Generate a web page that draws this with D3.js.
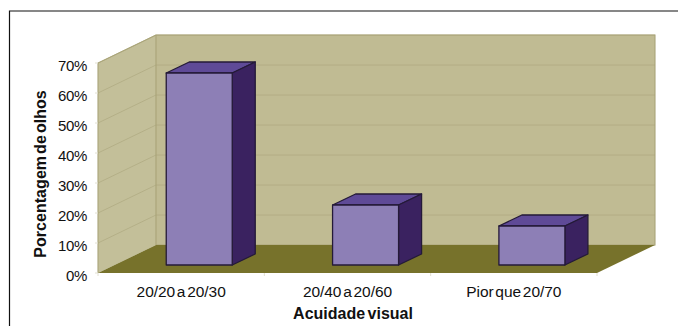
<!DOCTYPE html>
<html>
<head>
<meta charset="utf-8">
<script src="https://cdn.jsdelivr.net/npm/d3@7"></script>
<style>
  html, body { margin: 0; padding: 0; background: #fff; }
  svg { display: block; }
  text { font-family: "Liberation Sans", Arial, sans-serif; fill: #111; }
</style>
</head>
<body>
<svg id="chart" width="678" height="326"></svg>
<script>
const categories = ["20/20 a 20/30", "20/40 a 20/60", "Pior que 20/70"];
const percentages = [64, 20, 13];
const yTicks = [0, 10, 20, 30, 40, 50, 60, 70];
const yTitle = "Porcentagem de olhos";
const xTitle = "Acuidade visual";

const svg = d3.select("#chart");

// Oblique projection: a floor shift of (depthX, -depthY) leads to the back wall.
const depthX = 58, depthY = 28;
const barDepthX = 23, barDepthY = 11;
const barOffset = 8 / depthY;        // how far bars stand back from the front edge

const x = d3.scaleBand().domain(categories).range([98, 597]);
const y = d3.scaleLinear().domain([0, 70]).range([273, 63]);
const barWidth = 66;

const poly = (pts, fill, stroke, sw) => svg.append("polygon")
  .attr("points", pts.map(p => p.join(",")).join(" "))
  .attr("fill", fill)
  .attr("stroke", stroke || "none")
  .attr("stroke-width", sw || 0)
  .attr("stroke-linejoin", "round");

// Outer frame, open on the right and bottom edges
svg.append("path").attr("d", "M9.5,326V11H678").attr("fill", "none")
  .attr("stroke", "#111").attr("stroke-width", 1.2);

const [x0, x1] = x.range();
const yTop = y(70), yBase = y(0);

// Back wall, side wall, floor
poly([[x0 + depthX, yTop - depthY], [x1 + depthX, yTop - depthY], [x1 + depthX, yBase - depthY], [x0 + depthX, yBase - depthY]], "#c0bb93");
poly([[x0, yTop], [x0 + depthX, yTop - depthY], [x0 + depthX, yBase - depthY], [x0, yBase]], "#c3bf99");

// Gridlines running along the side wall and the back wall
svg.append("g").selectAll("path").data(yTicks.filter(t => t > 0)).join("path")
  .attr("d", t => `M${x0},${y(t)}L${x0 + depthX},${y(t) - depthY}H${x1 + depthX}`)
  .attr("fill", "none").attr("stroke", "#aaa57c").attr("stroke-width", 1).attr("opacity", 0.6);

// Wall edges
svg.append("path")
  .attr("d", `M${x0},${yBase}V${yTop}L${x0 + depthX},${yTop - depthY}H${x1 + depthX}V${yBase - depthY}H${x0 + depthX}V${yTop - depthY}`)
  .attr("fill", "none").attr("stroke", "#a9a478").attr("stroke-width", 1.1);

poly([[x0, yBase], [x1, yBase], [x1 + depthX, yBase - depthY], [x0 + depthX, yBase - depthY]], "#77722b");

// Axis ticks on the front edges
svg.append("g").selectAll("line").data(yTicks).join("line")
  .attr("x1", x0 - 3).attr("x2", x0).attr("y1", d => y(d)).attr("y2", d => y(d))
  .attr("stroke", "#e2e0d2").attr("stroke-width", 1);
svg.append("g").selectAll("line").data([x0, x(categories[1]), x(categories[2]), x1]).join("line")
  .attr("x1", d => d).attr("x2", d => d).attr("y1", yBase).attr("y2", yBase + 3)
  .attr("stroke", "#e2e0d2").attr("stroke-width", 1);

// Bars: front, top and side faces
const edge = "#241a38";
categories.forEach((c, i) => {
  const left = x(c) + x.bandwidth() / 2 + depthX * barOffset + 1 - barWidth / 2 + 0.5;
  const right = left + barWidth;
  const floorY = yBase - depthY * barOffset;
  const topY = floorY - (yBase - y(percentages[i]));
  poly([[left, topY], [left + barDepthX, topY - barDepthY], [right + barDepthX, topY - barDepthY], [right, topY]], "#5f4a97", edge, 1.3);
  poly([[right, topY], [right + barDepthX, topY - barDepthY], [right + barDepthX, floorY - barDepthY], [right, floorY]], "#3a2260", edge, 1.3);
  poly([[left, topY], [right, topY], [right, floorY], [left, floorY]], "#8d7fb6", edge, 1.3);
});

// Tick labels
svg.append("g").selectAll("text").data(yTicks).join("text")
  .attr("x", 87).attr("y", d => y(d) + 7.5)
  .attr("text-anchor", "end").attr("font-size", 15).attr("letter-spacing", -0.3)
  .text(d => d + "%");

svg.append("g").selectAll("text").data(categories).join("text")
  .attr("x", d => x(d) + x.bandwidth() / 2)
  .attr("y", 297)
  .attr("text-anchor", "middle").attr("font-size", 15.5).attr("letter-spacing", -0.05).attr("word-spacing", -2.5)
  .text(d => d);

// Axis titles
svg.append("text")
  .attr("transform", "translate(46,174) rotate(-90)")
  .attr("text-anchor", "middle").attr("font-size", 16).attr("font-weight", "bold")
  .attr("letter-spacing", 0.05).attr("word-spacing", -2.5)
  .text(yTitle);

svg.append("text")
  .attr("x", 353).attr("y", 319)
  .attr("text-anchor", "middle").attr("font-size", 16).attr("font-weight", "bold")
  .attr("word-spacing", -2)
  .text(xTitle);
</script>
</body>
</html>
